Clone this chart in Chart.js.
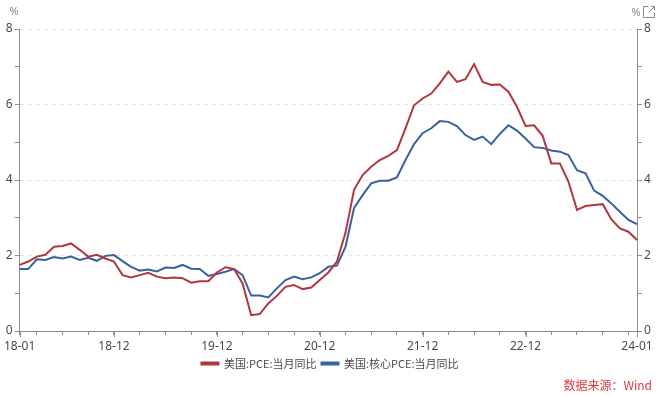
<!DOCTYPE html>
<html>
<head>
<meta charset="utf-8">
<script src="https://cdn.jsdelivr.net/npm/chart.js@4"></script>
<style>
  html, body { margin: 0; padding: 0; background: #fff; }
  #wrap { width: 660px; height: 396px; position: relative; }
</style>
</head>
<body>
<div id="wrap"><canvas id="pceChart"></canvas></div>
<script>
// monthly categories, 2018-01 .. 2024-01
const months = [
  '18-01','18-02','18-03','18-04','18-05','18-06','18-07','18-08','18-09','18-10','18-11','18-12',
  '19-01','19-02','19-03','19-04','19-05','19-06','19-07','19-08','19-09','19-10','19-11','19-12',
  '20-01','20-02','20-03','20-04','20-05','20-06','20-07','20-08','20-09','20-10','20-11','20-12',
  '21-01','21-02','21-03','21-04','21-05','21-06','21-07','21-08','21-09','21-10','21-11','21-12',
  '22-01','22-02','22-03','22-04','22-05','22-06','22-07','22-08','22-09','22-10','22-11','22-12',
  '23-01','23-02','23-03','23-04','23-05','23-06','23-07','23-08','23-09','23-10','23-11','23-12',
  '24-01'
];

// 美国:PCE:当月同比 (%)
const pceYoY = [
  1.75, 1.84, 1.97, 2.02, 2.23, 2.25, 2.32, 2.15, 1.97, 2.02, 1.92, 1.84,
  1.48, 1.42, 1.48, 1.54, 1.44, 1.40, 1.42, 1.40, 1.28, 1.32, 1.32, 1.55,
  1.69, 1.64, 1.26, 0.42, 0.45, 0.73, 0.93, 1.17, 1.22, 1.11, 1.15, 1.35,
  1.55, 1.84, 2.60, 3.74, 4.13, 4.35, 4.53, 4.64, 4.79, 5.37, 5.98, 6.16,
  6.29, 6.56, 6.87, 6.60, 6.67, 7.07, 6.60, 6.52, 6.53, 6.34, 5.94, 5.43,
  5.45, 5.17, 4.44, 4.44, 3.96, 3.21, 3.31, 3.34, 3.36, 2.96, 2.72, 2.63,
  2.41
];

// 美国:核心PCE:当月同比 (%)
const corePceYoY = [
  1.64, 1.64, 1.90, 1.88, 1.96, 1.92, 1.97, 1.88, 1.94, 1.86, 1.99, 2.01,
  1.85, 1.70, 1.60, 1.63, 1.58, 1.68, 1.67, 1.75, 1.65, 1.64, 1.46, 1.51,
  1.57, 1.64, 1.48, 0.94, 0.94, 0.89, 1.13, 1.35, 1.44, 1.37, 1.42, 1.53,
  1.70, 1.73, 2.23, 3.26, 3.60, 3.91, 3.98, 3.98, 4.07, 4.53, 4.95, 5.24,
  5.37, 5.56, 5.54, 5.43, 5.19, 5.06, 5.15, 4.95, 5.22, 5.45, 5.31, 5.10,
  4.87, 4.85, 4.78, 4.75, 4.66, 4.26, 4.18, 3.72, 3.58, 3.38, 3.16, 2.94,
  2.83
];

const shownMonths = ['18-01', '18-12', '19-12', '20-12', '21-12', '22-12', '24-01'];
const seriesNames = ['美国:PCE:当月同比', '美国:核心PCE:当月同比'];
const yMin = 0, yMax = 8;

const latin = "'Noto Sans', 'DejaVu Sans', sans-serif";
const cjk = "'Noto Sans CJK SC', 'Noto Sans', sans-serif";
const red = '#b3363b';
const blue = '#37619f';
const axisGray = '#8f8f8f';
const textGray = '#4a4a4a';

// unit marks, export icon, longer ticks under labelled months, source note
const extras = {
  id: 'extras',
  afterDraw(chart) {
    const c = chart.ctx;
    const xs = chart.scales.x;
    c.save();

    c.strokeStyle = axisGray;
    c.lineWidth = 1;
    c.beginPath();
    shownMonths.forEach(m => {
      const px = Math.round(xs.getPixelForValue(months.indexOf(m))) + 0.5;
      c.moveTo(px, xs.top);
      c.lineTo(px, xs.top + 6);
    });
    c.stroke();

    c.fillStyle = '#8a8a8a';
    c.font = '11px ' + latin;
    c.textAlign = 'center';
    c.textBaseline = 'middle';
    c.fillText('%', 14, 12);
    c.fillText('%', 636, 13);

    c.beginPath();
    c.moveTo(648.5, 6.5); c.lineTo(643.5, 6.5); c.lineTo(643.5, 17.5);
    c.lineTo(654.5, 17.5); c.lineTo(654.5, 12.5);
    c.moveTo(648.5, 12.5); c.lineTo(654.5, 6.5);
    c.moveTo(651, 6.5); c.lineTo(654.5, 6.5); c.lineTo(654.5, 10);
    c.strokeStyle = '#8a8a8a';
    c.stroke();

    c.fillStyle = '#e03a3e';
    c.font = '12px ' + cjk;
    c.textAlign = 'right';
    c.fillText('数据来源：Wind', 652, 385);
    c.restore();
  }
};

const isQuarterTick = i => i === 0 || (i + 1) % 3 === 0 || i === months.length - 1;

new Chart(document.getElementById('pceChart'), {
  type: 'line',
  data: {
    labels: months,
    datasets: [
      {
        label: seriesNames[0],
        data: pceYoY,
        borderColor: red,
        backgroundColor: red,
        borderWidth: 2,
        pointRadius: 0,
        tension: 0
      },
      {
        label: seriesNames[1],
        data: corePceYoY,
        borderColor: blue,
        backgroundColor: blue,
        borderWidth: 2,
        pointRadius: 0,
        tension: 0
      }
    ]
  },
  options: {
    responsive: true,
    maintainAspectRatio: false,
    animation: false,
    layout: { padding: { top: 29, bottom: 17, left: 0, right: 0 } },
    plugins: {
      tooltip: { enabled: false },
      legend: {
        position: 'bottom',
        labels: {
          boxWidth: 17,
          boxHeight: 2,
          padding: 5,
          color: textGray,
          font: { family: cjk, size: 11 }
        }
      }
    },
    scales: {
      x: {
        type: 'category',
        offset: false,
        border: { color: axisGray },
        grid: {
          drawOnChartArea: false,
          drawTicks: true,
          tickLength: 4,
          color: ctx => isQuarterTick(ctx.index) ? axisGray : 'rgba(0,0,0,0)'
        },
        ticks: {
          autoSkip: false,
          maxRotation: 0,
          minRotation: 0,
          padding: 4,
          color: textGray,
          font: { family: latin, size: 12 },
          callback(value) {
            const lab = this.getLabelForValue(value);
            return shownMonths.includes(lab) ? lab : '';
          }
        },
        afterFit(scale) { scale.height = 22; }
      },
      y: {
        position: 'left',
        min: yMin,
        max: yMax,
        border: { color: axisGray, dash: [4, 4] },
        grid: {
          color: ctx => (ctx.tick.value % 2 === 0 && ctx.tick.value > 0) ? '#e4e4e4' : 'rgba(0,0,0,0)',
          tickColor: axisGray,
          tickBorderDash: [],
          tickLength: 5
        },
        ticks: {
          stepSize: 1,
          padding: 2,
          color: textGray,
          font: { family: latin, size: 12 },
          callback: v => v % 2 === 0 ? v : ''
        },
        afterFit(scale) { scale.width = 17; }
      },
      y2: {
        position: 'right',
        min: yMin,
        max: yMax,
        border: { color: axisGray },
        grid: {
          drawOnChartArea: false,
          tickColor: axisGray,
          tickLength: 5
        },
        ticks: {
          stepSize: 1,
          padding: 2,
          color: textGray,
          font: { family: latin, size: 12 },
          callback: v => v % 2 === 0 ? v : ''
        },
        afterFit(scale) { scale.width = 23; }
      }
    }
  },
  plugins: [extras]
});
</script>
</body>
</html>
